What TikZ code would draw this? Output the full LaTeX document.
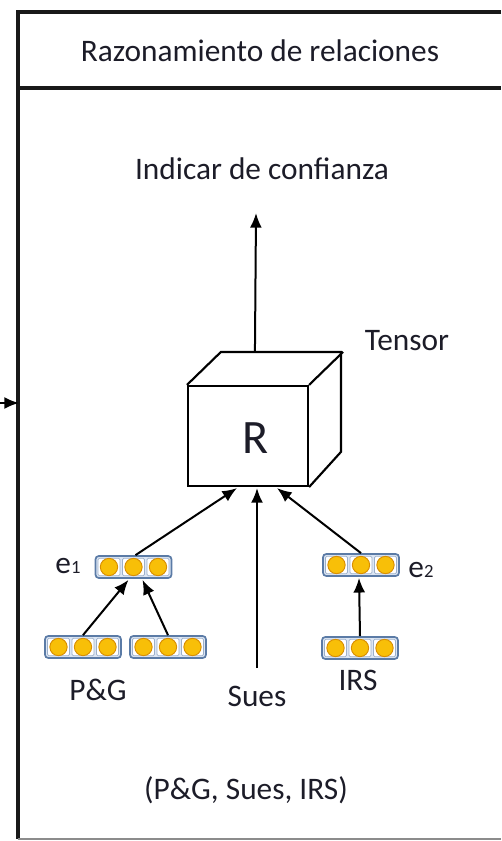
\documentclass[tikz,border=0pt]{standalone}
\usepackage{fontspec}
\setmainfont{Carlito}
\usetikzlibrary{calc,arrows.meta}
\definecolor{vecedge}{HTML}{5B7BA6}
\definecolor{vecfill}{HTML}{DCE6F4}
\definecolor{vecyellow}{HTML}{F8BF08}
\definecolor{vecorange}{HTML}{D98E00}
\definecolor{txt}{HTML}{1C1C28}
\begin{document}
\begin{tikzpicture}[x=0.75pt,y=-0.75pt,
  frame/.style={draw=black!90,line width=2.4pt},
  arr/.style={-{Latex[length=11pt,width=9pt]},line width=1.5pt,black},
  cube/.style={draw=black,line width=1.6pt},
  lbl/.style={text=txt,font=\fontsize{23.5}{28}\selectfont,inner sep=1pt},
  vecbox/.style={draw=vecedge,fill=vecfill,rounded corners=2.5pt,line width=1.3pt,minimum width=57pt,minimum height=16.5pt,inner sep=0pt},
  vecslot/.style={draw=vecedge!60,fill=white,line width=0.6pt,minimum width=16.5pt,minimum height=13pt,inner sep=0pt,rounded corners=1pt},
  veccirc/.style={circle,fill=vecyellow,draw=vecorange,line width=0.7pt,minimum size=13pt,inner sep=0pt},
  vec/.pic={
    \node[vecbox] (-b) at (0,0) {};
    \foreach \dx [count=\i] in {-24.5,0,24.5}{
      \node[vecslot] (-s\i) at (\dx,0) {};
      \node[veccirc] (-c\i) at (\dx,0) {};
    }
  }
]
\useasboundingbox (0,0) rectangle (501,841);
% frame
\draw[frame] (501,12) -- (18,12) -- (18,839);
\draw[frame] (18,88) -- (501,88);
\draw[draw=black!45,line width=1.5pt] (18,839) -- (501,839);
\coordinate (inL) at (0,403);
\coordinate (inR) at (19,403);
\draw[arr] (inL) -- (inR);
% title
\node[lbl] (title) at (260,51) {Razonamiento de relaciones};
% output
\node[lbl] (conf) at (262,169) {Indicar de confianza};
\coordinate (confarr) at (256,213);
% cube
\node[cube,minimum width=90pt,minimum height=75pt,inner sep=0pt] (R) at (248,436) {};
\node[text=txt,font=\fontsize{36}{42}\selectfont] (Rl) at (256,438) {R};
\draw[cube,line join=miter] (R.north west) -- ++(34,-33) -- ++(120,0) -- ++(0,100) -- (R.south east);
\draw[cube] (R.north east) -- ++(34,-33);
\coordinate (Rtop) at ($(R.north west)+(68,-33)$);
\draw[arr] (Rtop) -- (confarr);
\node[lbl] (tensor) at (407,341) {Tensor};
% vectors
\pic (e1) at (133.5,567) {vec};
\pic (e2) at (361,565) {vec};
\pic (p1) at (83,647) {vec};
\pic (p2) at (168,647) {vec};
\pic (irs) at (360,648) {vec};
\node[lbl] (e1l) at (68,566) {e{\fontsize{14}{16}\selectfont 1}};
\node[lbl] (e2l) at (421,570) {e{\fontsize{14}{16}\selectfont 2}};
\node[lbl] (pg) at (98,690) {P\&G};
\node[lbl] (sues) at (257,696) {Sues};
\node[lbl] (irsl) at (358,680) {IRS};
\node[lbl] (tuple) at (246,790) {(P\&G, Sues, IRS)};
% arrows
\coordinate (suesb) at (257,668);
\draw[arr] ($(e1-b.north)+(2,0)$) -- ($(R.south)+(-11,1)$);
\draw[arr] (suesb) -- ($(R.south)+(9,1)$);
\draw[arr] (e2-b.north) -- ($(R.south)+(29,1)$);
\draw[arr] (p1-b.north) -- ($(e1-b.south)+(-5,1)$);
\draw[arr] (p2-b.north) -- ($(e1-b.south)+(9,1)$);
\draw[arr] (irs-b.north) -- ($(e2-b.south)+(-2,1)$);
\end{tikzpicture}
\end{document}
